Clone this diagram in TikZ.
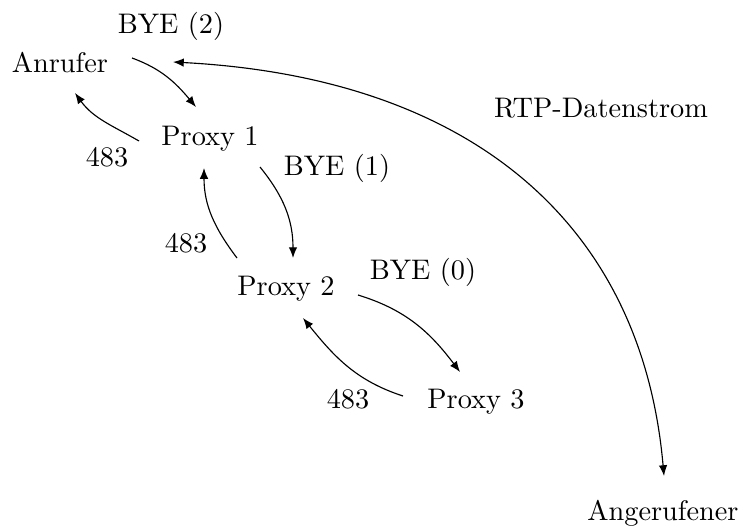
\documentclass[tikz,border=0pt]{standalone}
\usetikzlibrary{calc,arrows.meta}

\begin{document}
\begin{tikzpicture}[x=0.3533pt,y=0.3533pt,
  party/.style={anchor=base,inner sep=0pt},
  msg/.style={anchor=base,inner sep=0pt},
  flow/.style={-{Latex[length=3.8pt,width=3pt]},line width=0.4pt},
  media/.style={{Latex[length=3.8pt,width=3pt]}-{Latex[length=3.8pt,width=3pt]},line width=0.4pt}]
\useasboundingbox (0,0) rectangle (743,-529);

% endpoints and proxies
\node[party] (anr) at (60,-72)  {Anrufer};
\node[party] (p1)  at (210,-145) {Proxy 1};
\node[party] (p2)  at (286,-295) {Proxy 2};
\node[party] (p3)  at (476,-408) {Proxy 3};
\node[party] (ang) at (663,-520) {Angerufener};

% message labels
\node[msg] (bye2) at (171,-33)  {BYE (2)};
\node[msg] (bye1) at (337,-175) {BYE (1)};
\node[msg] (bye0) at (423,-279) {BYE (0)};
\node[msg] (r1)   at (107,-166) {483};
\node[msg] (r2)   at (186,-252) {483};
\node[msg] (r3)   at (348,-408) {483};
\node[msg] (rtp)  at (601,-117) {RTP-Datenstrom};

% BYE requests downstream
\draw[flow] ($(anr.base)+(72,14)$) to[out=-20,in=130] ($(p1.base)+(-14,38)$);
\draw[flow] ($(p1.base)+(50,-22)$) to[out=-51,in=90] ($(p2.base)+(7,37)$);
\draw[flow] ($(p2.base)+(72,0)$) to[out=-17,in=127] ($(p3.base)+(-16,36)$);

% 483 responses upstream
\draw[flow] ($(p1.base)+(-71,4)$) to[out=150,in=-54] ($(anr.base)+(15,-21)$);
\draw[flow] ($(p2.base)+(-49,37)$) to[out=127,in=-90] ($(p1.base)+(-6,-23)$);
\draw[flow] ($(p3.base)+(-73,12)$) to[out=162,in=-51] ($(p2.base)+(17,-23)$);

% media stream between the end points
\draw[media] ($(ang.base)+(1,44)$) to[out=95,in=-3,out looseness=1.0,in looseness=1.2] ($(anr.base)+(113,10)$);
\end{tikzpicture}
\end{document}
